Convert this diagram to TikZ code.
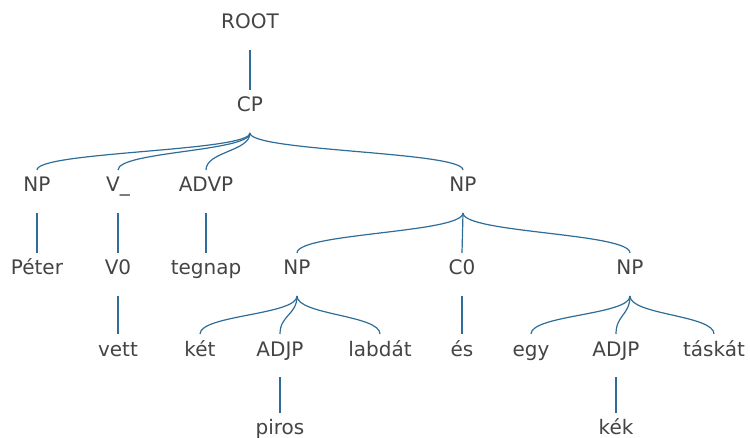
\documentclass[tikz,border=0pt]{standalone}
\usepackage{fontspec}
\setmainfont{DejaVu Sans}
\usetikzlibrary{calc}
\definecolor{edgeblue}{HTML}{2E6D97}
\definecolor{labelgray}{HTML}{444444}
\tikzset{
  lbl/.style={inner sep=0pt, anchor=base, text=labelgray,
    font=\fontsize{20}{24}\selectfont},
  edge/.style={draw=edgeblue, line width=1.2pt}
}
% parent-to-child connector: vertical tangents at both ends
\newcommand\branch[2]{%
  \draw[edge] let \p1=([yshift=-21pt]#1.base), \p2=([yshift=22pt]#2.base) in
    (\p1) .. controls (\x1,{0.5*(\y1+\y2)}) and (\x2,{0.5*(\y1+\y2)}) .. (\p2);}
\begin{document}
\begin{tikzpicture}[x=1pt,y=-1pt]
\useasboundingbox (0,0) rectangle (750,438);
% level 0 and 1
\node[lbl] (root) at (250,29) {ROOT};
\node[lbl] (cp)   at (250,112) {CP};
% level 2
\node[lbl] (np1)  at (37,192) {NP};
\node[lbl] (vbar) at (118,192) {V\_};
\node[lbl] (advp) at (206,192) {ADVP};
\node[lbl] (np2)  at (463,192) {NP};
% level 3
\node[lbl] (peter)  at (37,275) {Péter};
\node[lbl] (vzero)  at (118,275) {V0};
\node[lbl] (tegnap) at (206,275) {tegnap};
\node[lbl] (np3)    at (297,275) {NP};
\node[lbl] (czero)  at (462,275) {C0};
\node[lbl] (np4)    at (630,275) {NP};
% level 4
\node[lbl] (vett)   at (118,356) {vett};
\node[lbl] (ket)    at (200,356) {két};
\node[lbl] (adjp1)  at (280,356) {ADJP};
\node[lbl] (labdat) at (380,356) {labdát};
\node[lbl] (es)     at (462,356) {és};
\node[lbl] (egy)    at (531,356) {egy};
\node[lbl] (adjp2)  at (616,356) {ADJP};
\node[lbl] (taskat) at (714,356) {táskát};
% level 5
\node[lbl] (piros)  at (280,435) {piros};
\node[lbl] (kek)    at (616,435) {kék};
% connectors
\branch{root}{cp}
\branch{cp}{np1}
\branch{cp}{vbar}
\branch{cp}{advp}
\branch{cp}{np2}
\branch{np1}{peter}
\branch{vbar}{vzero}
\branch{advp}{tegnap}
\branch{np2}{np3}
\branch{np2}{czero}
\branch{np2}{np4}
\branch{vzero}{vett}
\branch{np3}{ket}
\branch{np3}{adjp1}
\branch{np3}{labdat}
\branch{czero}{es}
\branch{np4}{egy}
\branch{np4}{adjp2}
\branch{np4}{taskat}
\branch{adjp1}{piros}
\branch{adjp2}{kek}
\end{tikzpicture}
\end{document}
